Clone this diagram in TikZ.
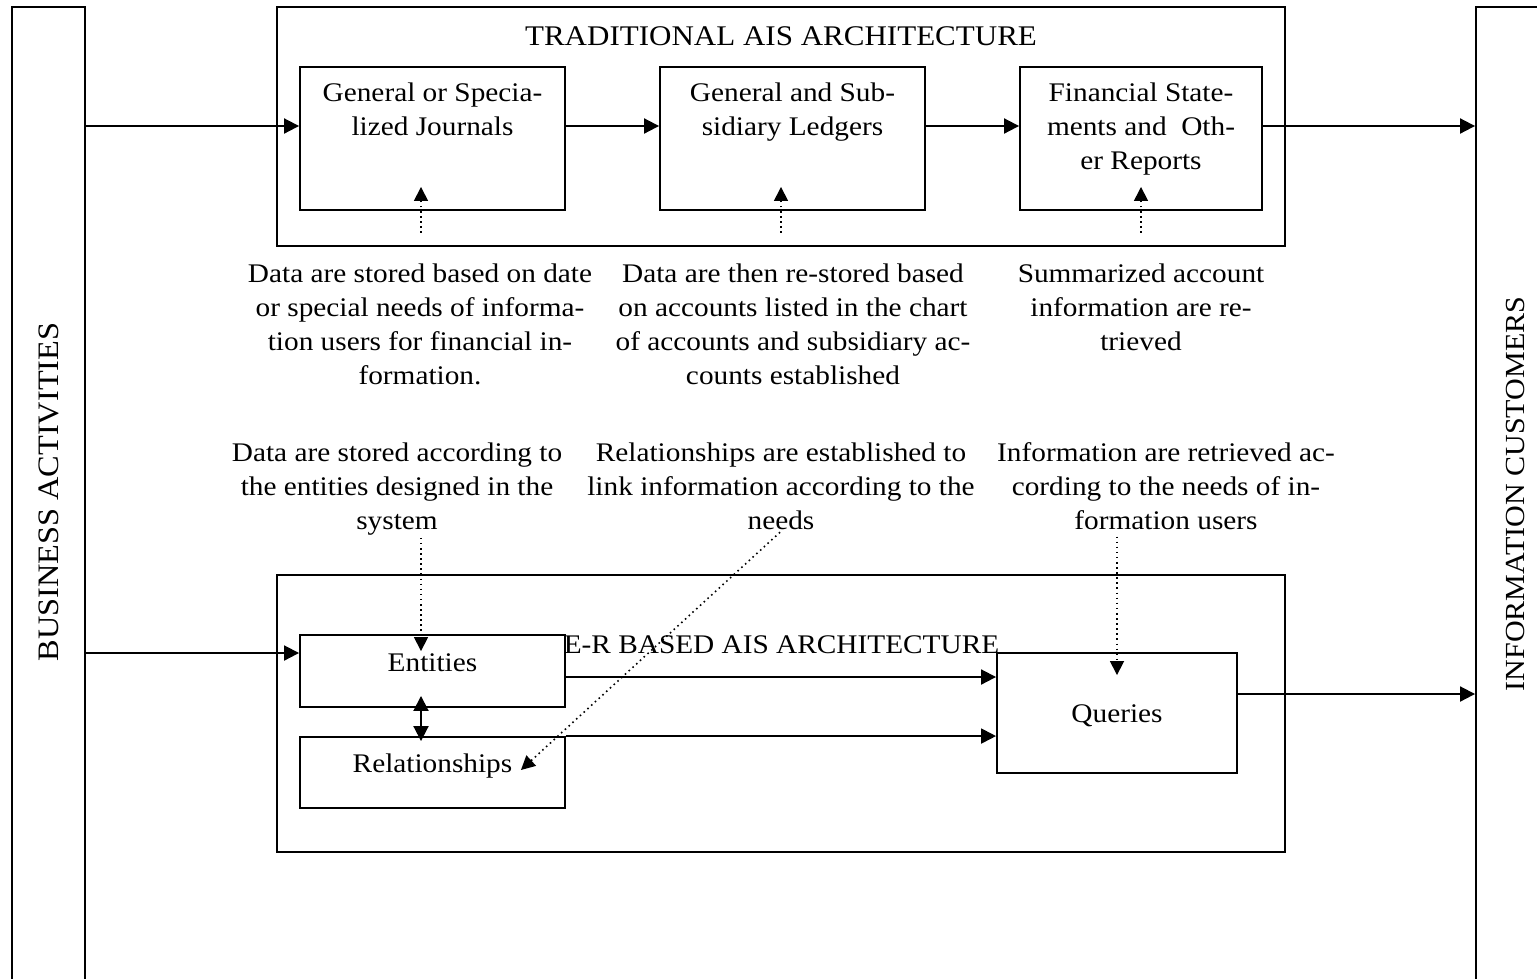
\documentclass[tikz,border=0pt]{standalone}
\usepackage{fontspec}
\setmainfont{Liberation Serif}[FakeStretch=1.09]
\usetikzlibrary{arrows.meta,positioning,calc}

\begin{document}
\begin{tikzpicture}[
    x=0.02cm, y=-0.02cm,
    every node/.style={font=\fontsize{15.3}{19.35}\selectfont},
    box/.style={rectangle, draw, line width=1.1pt, inner sep=0pt},
    txt/.style={align=center, inner sep=0pt},
    arrow/.style={-{Triangle[length=0.3cm, width=0.3cm]}, line width=1.1pt},
    dotarrow/.style={-{Triangle[length=0.28cm, width=0.28cm]}, dotted, line width=0.9pt}
]

\useasboundingbox (0,0) rectangle (1537,978);
\clip (0,0) rectangle (1537,978);

% Side columns
\node[box, minimum width=1.46cm, minimum height=20cm] (biz) at (48.5,507) {};
\node[txt, rotate=90, font=\fontsize{16.9}{20}\selectfont] (biztxt) at (48.5,492) {BUSINESS ACTIVITIES};
\node[box, minimum width=2.16cm, minimum height=20cm] (info) at (1530,507) {};
\node[txt, rotate=90, font=\fontsize{15.7}{20}\selectfont] (infotxt) at (1515,494) {INFORMATION CUSTOMERS};

% Traditional architecture
\node[box, minimum width=20.16cm, minimum height=4.78cm] (trad) at (781,126.5) {};
\node[txt, anchor=base, font=\fontsize{16.2}{20}\selectfont] (tradtxt) at (781,45) {TRADITIONAL AIS ARCHITECTURE};

\node[box, minimum width=5.3cm, minimum height=2.86cm] (jour) at (432.5,138.5) {};
\node[txt, below=0.33cm of jour.north] (jourtxt) {General or Specia-\\lized Journals};
\node[box, minimum width=5.3cm, minimum height=2.86cm] (led) at (792.5,138.5) {};
\node[txt, below=0.33cm of led.north] (ledtxt) {General and Sub-\\sidiary Ledgers};
\node[box, minimum width=4.84cm, minimum height=2.86cm] (fin) at (1141,138.5) {};
\node[txt, below=0.33cm of fin.north] (fintxt) {Financial State-\\ments and \ Oth-\\er Reports};

% Notes on the traditional flow
\node[txt, anchor=north] (note1) at (420,263.6) {Data are stored based on date\\or special needs of informa-\\tion users for financial in-\\formation.};
\node[txt, anchor=north] (note2) at (793,263.6) {Data are then re-stored based\\on accounts listed in the chart\\of accounts and subsidiary ac-\\counts established};
\node[txt, anchor=north] (note3) at (1141,263.6) {Summarized account\\information are re-\\trieved};

% Notes on the E-R flow
\node[txt, anchor=north] (note4) at (397,442.6) {Data are stored according to\\the entities designed in the\\system};
\node[txt, anchor=north] (note5) at (781,442.6) {Relationships are established to\\link information according to the\\needs};
\node[txt, anchor=north] (note6) at (1166,442.6) {Information are retrieved ac-\\cording to the needs of in-\\formation users};

% E-R based architecture
\node[box, minimum width=20.16cm, minimum height=5.54cm] (er) at (781,713.5) {};
\node[box, minimum width=5.3cm, minimum height=1.44cm] (ent) at (432.5,671) {};
\node[txt, anchor=base] (enttxt) at ($(ent.north)+(0,37)$) {Entities};
\node[box, minimum width=5.3cm, minimum height=1.42cm] (rel) at (432.5,772.5) {};
\node[txt, anchor=base] (reltxt) at ($(rel.north)+(0,36)$) {Relationships};
\node[box, minimum width=4.8cm, minimum height=2.4cm] (que) at (1117,713) {};
\node[txt, anchor=base] (quetxt) at ($(que.north)+(0,70)$) {Queries};
\node[txt, anchor=base] (ertxt) at (781.5,653) {E-R BASED AIS ARCHITECTURE};

% Traditional flow arrows
\coordinate (jin) at ($(jour.west)+(0,-12.5)$);
\draw[arrow] (biz.east |- jin) -- (jin);
\draw[arrow] (jour.east |- jin) -- (led.west |- jin);
\draw[arrow] (led.east |- jin) -- (fin.west |- jin);
\draw[arrow] (fin.east |- jin) -- (info.west |- jin);

\draw[dotarrow] ($(jour.south)+(-11.5,22)$) -- ($(jour.south)+(-11.5,-24)$);
\draw[dotarrow] ($(led.south)+(-11.5,22)$) -- ($(led.south)+(-11.5,-24)$);
\draw[dotarrow] ($(fin.south)+(0,22)$) -- ($(fin.south)+(0,-24)$);

% E-R flow arrows
\coordinate (ein) at ($(ent.west)+(0,-18)$);
\draw[arrow] (biz.east |- ein) -- (ein);
\draw[arrow] ($(ent.east)+(0,6)$) -- ($(que.west |- ent.east)+(0,6)$);
\draw[arrow] (rel.north east) -- (que.west |- rel.north east);
\draw[arrow] ($(que.east)+(0,-19)$) -- ($(info.west |- que.east)+(0,-19)$);
\draw[arrow, {Triangle[length=0.3cm, width=0.3cm]}-{Triangle[length=0.3cm, width=0.3cm]}] ($(ent.south)+(-11.5,-12)$) -- ($(rel.north)+(-11.5,5)$);

\draw[dotarrow] ($(ent.north |- note4.south)+(-11.5,2)$) -- ($(ent.north)+(-11.5,17)$);
\draw[dotarrow] ($(note5.south)+(-1,2)$) -- ($(rel.east)+(-45,-2.5)$);
\draw[dotarrow] ($(que.north |- note6.south)+(0,6)$) -- ($(que.north)+(0,23)$);

\end{tikzpicture}
\end{document}
